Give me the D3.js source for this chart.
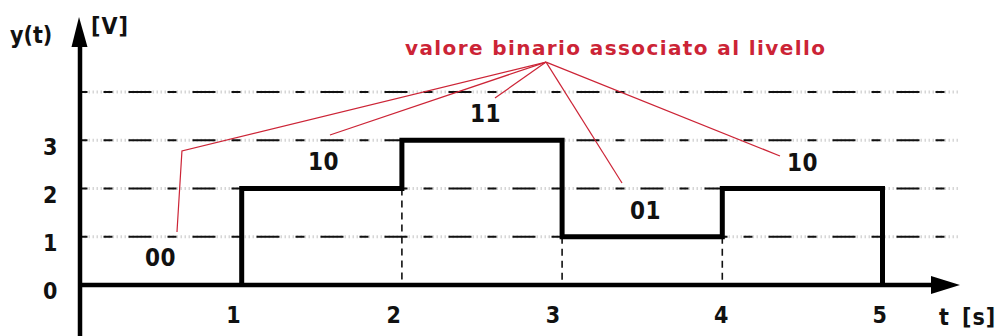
<!DOCTYPE html>
<html>
<head>
<meta charset="utf-8">
<script src="https://cdn.jsdelivr.net/npm/d3@7"></script>
<style>
  html, body { margin: 0; padding: 0; background: #ffffff; }
  svg { display: block; }
  text { font-family: "DejaVu Sans Condensed", "DejaVu Sans", sans-serif; font-stretch: condensed; font-weight: bold; }
  text.title { font-family: "DejaVu Sans", Verdana, sans-serif; font-stretch: normal; }
</style>
</head>
<body>
<svg id="chart" width="996" height="336"></svg>
<script>
// ---------- data ----------
const stepTimes   = [1, 2, 3, 4, 5];          // instants of level changes [s]
const stepLevels  = [2, 3, 1, 2, 0];          // level held from each instant [V]
const gridLevels  = [1, 2, 3, 4];             // dash-dot quantisation levels
const yTickValues = [0, 1, 2, 3];
const yTickLabels = ["0", "1", "2", "3"];
const xTickAt     = [0.945, 1.945, 2.94, 3.99, 4.98];
const xTickLabels = ["1", "2", "3", "4", "5"];

const codeLabels  = ["00", "10", "11", "01", "10"];      // binary value of each level
const codeLabelT  = [0.397, 1.414, 2.425, 3.424, 4.404];
const codeLabelV  = [0.394, 2.383, 3.378, 1.368, 2.363];

const titleText   = "valore binario associato al livello";
const titleT      = 2.019;
const titleV      = 4.767;
const hubT        = 2.90;   // where the pointer lines meet
const hubV        = 4.62;
const pointerT    = [[0.627, 0.596], [1.551], [2.581], [3.374], [4.360]];
const pointerV    = [[2.777, 1.098], [3.109], [3.876], [2.114], [2.674]];

// ---------- scales ----------
const svg = d3.select("#chart");
const x = d3.scaleLinear().domain([0, 5]).range([81.5, 882.5]);
const y = d3.scaleLinear().domain([0, 4]).range([285, 92]);

const xAxisEnd = 960, yAxisTop = 17;

// faint gray texture under grid lines (jpeg look)
svg.append("g").selectAll("line").data(gridLevels).join("line")
  .attr("x1", x(0) - 1).attr("x2", 958)
  .attr("y1", d => y(d)).attr("y2", d => y(d))
  .attr("stroke", "#d6d6d6").attr("stroke-width", 3)
  .attr("stroke-dasharray", "1.5,2.5");

// dash-dot grid lines
svg.append("g").selectAll("line").data(gridLevels).join("line")
  .attr("x1", x(0) - 1).attr("x2", 958)
  .attr("y1", d => y(d)).attr("y2", d => y(d))
  .attr("stroke", "#111").attr("stroke-width", 2)
  .attr("stroke-dasharray", "23,16,9,16")
  .attr("stroke-dashoffset", 16);

// vertical dashed projections at the step instants
const proj = [];
for (let i = 1; i < stepTimes.length; i++) {
  const m = Math.min(stepLevels[i - 1], stepLevels[i]);
  if (m > 0) proj.push({ t: stepTimes[i], v: m });
}
svg.append("g").selectAll("line").data(proj).join("line")
  .attr("x1", d => x(d.t)).attr("x2", d => x(d.t))
  .attr("y1", d => y(d.v)).attr("y2", y(0))
  .attr("stroke", "#111").attr("stroke-width", 1.6)
  .attr("stroke-dasharray", "7,5");

// red pointer lines
const red = "#cc2436";
const ptrLine = d3.line().x(d => x(d[0])).y(d => y(d[1]));
const ptrData = pointerT.map((ts, i) => [[hubT, hubV]].concat(ts.map((t, j) => [t, pointerV[i][j]])));
svg.append("g").selectAll("path").data(ptrData).join("path")
  .attr("d", ptrLine).attr("fill", "none")
  .attr("stroke", red).attr("stroke-width", 1.2);

// axes lines + arrowheads
svg.append("line").attr("x1", x(0) - 1.5).attr("x2", 934).attr("y1", y(0)).attr("y2", y(0))
  .attr("stroke", "#000").attr("stroke-width", 4.5);
svg.append("path").attr("d", `M${xAxisEnd},${y(0)} L931,${y(0) - 9} L931,${y(0) + 9} Z`).attr("fill", "#000");
svg.append("line").attr("x1", x(0) - 1.5).attr("x2", x(0) - 1.5).attr("y1", 336).attr("y2", 44)
  .attr("stroke", "#000").attr("stroke-width", 4.5);
svg.append("path").attr("d", `M${x(0) - 2.5},${yAxisTop} L${x(0) - 10},47 L${x(0) + 6},47 Z`).attr("fill", "#000");

// signal (step waveform)
const stepPts = [[stepTimes[0], 0]].concat(stepTimes.map((t, i) => [t, stepLevels[i]]));
const stepLine = d3.line().x(d => x(d[0])).y(d => y(d[1])).curve(d3.curveStepAfter);
svg.append("path").datum(stepPts).attr("d", stepLine)
  .attr("fill", "none").attr("stroke", "#000").attr("stroke-width", 5)
  .attr("stroke-linejoin", "miter");

// tick labels through d3 axes
const yAx = svg.append("g").attr("transform", `translate(${x(0)},0)`)
  .call(d3.axisLeft(y).tickValues(yTickValues).tickFormat((d, i) => yTickLabels[i]).tickSize(0).tickPadding(24));
yAx.select(".domain").remove();
yAx.selectAll("text").attr("font-size", 23).attr("fill", "#111").attr("dy", "0.6em");

const xAx = svg.append("g").attr("transform", `translate(0,${y(0)})`)
  .call(d3.axisBottom(x).tickValues(xTickAt).tickFormat((d, i) => xTickLabels[i]).tickSize(0).tickPadding(22));
xAx.select(".domain").remove();
xAx.selectAll("text").attr("font-size", 23).attr("fill", "#111");
svg.selectAll("g[font-family]").attr("font-family", null);

// axis titles
svg.append("text").attr("x", 10).attr("y", 43).attr("font-size", 23).attr("fill", "#111").text("y(t)");
svg.append("text").attr("x", 91).attr("y", 34).attr("font-size", 23).attr("letter-spacing", 1).attr("fill", "#111").text("[V]");
svg.append("text").attr("x", 939).attr("y", 325).attr("font-size", 23).attr("fill", "#111").text("t");
svg.append("text").attr("x", 962).attr("y", 325).attr("font-size", 23).attr("letter-spacing", 1).attr("fill", "#111").text("[s]");

// binary code labels
svg.append("g").selectAll("text").data(codeLabels).join("text")
  .attr("x", (d, i) => x(codeLabelT[i]))
  .attr("y", (d, i) => y(codeLabelV[i]))
  .attr("font-size", 24).attr("letter-spacing", 0.5).attr("fill", "#111")
  .text(d => d);

// title
svg.append("text").attr("class", "title").attr("x", x(titleT)).attr("y", y(titleV))
  .attr("font-size", 20).attr("fill", red)
  .attr("textLength", 420).attr("lengthAdjust", "spacing")
  .text(titleText);
</script>
</body>
</html>
